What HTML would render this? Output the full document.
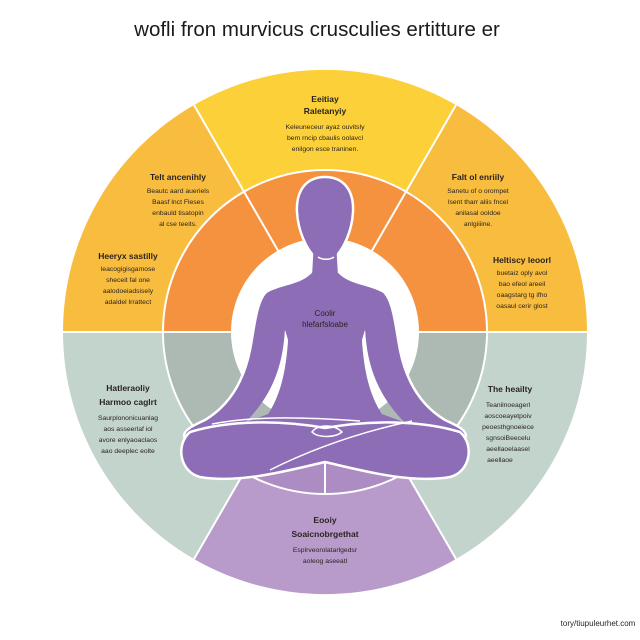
<!DOCTYPE html>
<html><head><meta charset="utf-8"><style>
html,body{margin:0;padding:0;background:#fff;width:640px;height:640px;overflow:hidden}
svg{display:block}
text{font-family:"Liberation Sans",sans-serif;fill:#2a2320}
</style></head><body>
<svg width="640" height="640" viewBox="0 0 640 640" xmlns="http://www.w3.org/2000/svg" xmlns:xlink="http://www.w3.org/1999/xlink">
<rect width="640" height="640" fill="#fff"/>
<text x="317" y="36" font-size="20.5" text-anchor="middle" style="fill:#1e1a18">wofli fron murvicus crusculies ertitture er</text>
<defs>
<clipPath id="c"><rect x="62" y="0" width="526" height="640"/></clipPath>
<clipPath id="gaps">
<path d="M285 330 C283 362 275 392 246 422 L268 414 C280 396 286 372 288 340 Z"/>
<path d="M365 330 C367 362 375 392 404 422 L382 414 C370 396 364 372 362 340 Z"/>
</clipPath>
</defs>
<g id="bg">
<g clip-path="url(#c)">
<path d="M325 332 L63 332 A262 262 0 0 1 194 105 Z" fill="#f8bd3e"/>
<path d="M325 332 L587 332 A262 262 0 0 0 456 105 Z" fill="#f8bd3e"/>
<path d="M325 332 L194 105 A262 262 0 0 1 456 105 Z" fill="#fbd038"/>
<path d="M325 332 L63 332 A262 262 0 0 0 194 559 Z" fill="#c3d4cd"/>
<path d="M325 332 L587 332 A262 262 0 0 1 456 559 Z" fill="#c3d4cd"/>
<path d="M325 332 L194 559 A262 262 0 0 0 456 559 Z" fill="#b99bcb"/>
<path d="M325 332 L163 332 A162 162 0 0 1 487 332 Z" fill="#f5923f"/>
<path d="M325 332 L163 332 A162 162 0 0 0 244 472 L406 472 A162 162 0 0 0 487 332 Z" fill="#adb9b3"/>
<path d="M325 332 L244 472 A162 162 0 0 0 406 472 Z" fill="#ad8cc4"/>
<g stroke="#fff" stroke-width="2" fill="none">
<line x1="62" y1="332" x2="588" y2="332"/>
<line x1="325" y1="332" x2="194" y2="105"/>
<line x1="325" y1="332" x2="456" y2="105"/>
<line x1="325" y1="332" x2="194" y2="559"/>
<line x1="325" y1="332" x2="456" y2="559"/>
<line x1="325" y1="332" x2="325" y2="494"/>
<circle cx="325" cy="332" r="162"/>
</g>
<circle cx="325" cy="332" r="94" fill="#fff"/>
</g>
</g>
<g fill="#8c6db6" stroke="#fff" stroke-width="2.5" stroke-linejoin="round">
<path d="M312 254 C307 248 298 232 297 212 C296 192 305 177 325 177 C345 177 354 192 353 212 C352 232 343 248 338 254 L339 272 C350 284 372 284 384 292 C394 302 396 330 400 350 C406 380 420 405 445 420 C458 426 466 430 466 436 C464 442 454 442 445 438 C420 432 390 428 325 428 C260 428 230 432 205 438 C196 442 186 442 184 436 C184 430 192 426 205 420 C230 405 244 380 250 350 C254 330 256 302 266 292 C278 284 300 284 311 272 Z"/>
</g>
<use xlink:href="#bg" href="#bg" clip-path="url(#gaps)"/>
<g fill="#8c6db6" stroke="#fff" stroke-width="2.5" stroke-linejoin="round">
<path d="M190 432 C175 445 180 472 200 477 C240 484 290 470 325 462 C360 470 410 484 450 477 C470 472 475 445 460 432 C420 420 370 420 325 428 C280 420 230 420 190 432 Z"/>
</g>
<g stroke="#fff" stroke-width="1.5" fill="none">
<path d="M212 424 C250 417 290 416 360 421 M270 470 C320 445 370 430 412 421"/>
<path d="M312 432 C318 424 334 424 342 432 C335 438 318 438 312 432 Z"/>
<path d="M318 257 C322 260 330 260 334 257"/>
</g>
<text x="325" y="316" font-size="8" text-anchor="middle">Coolir</text>
<text x="325" y="327" font-size="8" text-anchor="middle">hlefarfsloabe</text>
<g font-size="8.5" font-weight="bold" text-anchor="middle">
<text x="325" y="102">Eeitiay</text><text x="325" y="114">Raletanyiy</text>
<text x="178" y="180">Telt ancenihly</text>
<text x="478" y="180">Falt ol enriily</text>
<text x="128" y="259">Heeryx sastilly</text>
<text x="522" y="263">Heltiscy leoorl</text>
<text x="128" y="391">Hatleraoliy</text><text x="128" y="405">Harmoo caglrt</text>
<text x="510" y="392">The heailty</text>
<text x="325" y="523">Eooiy</text><text x="325" y="537">Soaicnobrgethat</text>
</g>
<g font-size="6.8" text-anchor="middle">
<text x="325" y="129">Keleuneceur ayaz ouvitsly</text><text x="325" y="140">bem rncip cbaulis oolavcl</text><text x="325" y="151">enilgon esce traninen.</text>
<text x="178" y="193">Beautc aard aueriels</text><text x="178" y="204">Baasf lnct Fleses</text><text x="178" y="215">enbauld tisatopin</text><text x="178" y="226">al cse teeits.</text>
<text x="478" y="193">Sanetu of o orompet</text><text x="478" y="204">lsent tharr aliis fncel</text><text x="478" y="215">anilasal ooldoe</text><text x="478" y="226">anlgiiiine.</text>
<text x="128" y="271">leacogigisgamose</text><text x="128" y="282">sheceit fal one</text><text x="128" y="293">aalodoeiadsisely</text><text x="128" y="304">adaldel lrrattect</text>
<text x="522" y="275">buetaiz oply avol</text><text x="522" y="286">bao efeol areeil</text><text x="522" y="297">oaagstarg tg ifho</text><text x="522" y="308">oasaul cerir glost</text>
<text x="128" y="420">Saurplononicuanlag</text><text x="128" y="431">aos asseerlaf iol</text><text x="128" y="442">avore enlyaoaclaos</text><text x="128" y="453">aao deeplec eolte</text>
<text x="508" y="407">Teanilnoeagerl</text><text x="508" y="418">aoscoeayetpoiv</text><text x="508" y="429">peoesthgnoeiece</text><text x="508" y="440">sgnsoiBeecelu</text><text x="508" y="451">aeellaoelaasel</text><text x="500" y="462">aeellaoe</text>
<text x="325" y="552">Esplrveorolatarlgedsr</text><text x="325" y="563">aoleog aseeatl</text>
</g>
<text x="598" y="626" font-size="8" text-anchor="middle">tory/tiupuleurhet.com</text>
</svg>
</body></html>
